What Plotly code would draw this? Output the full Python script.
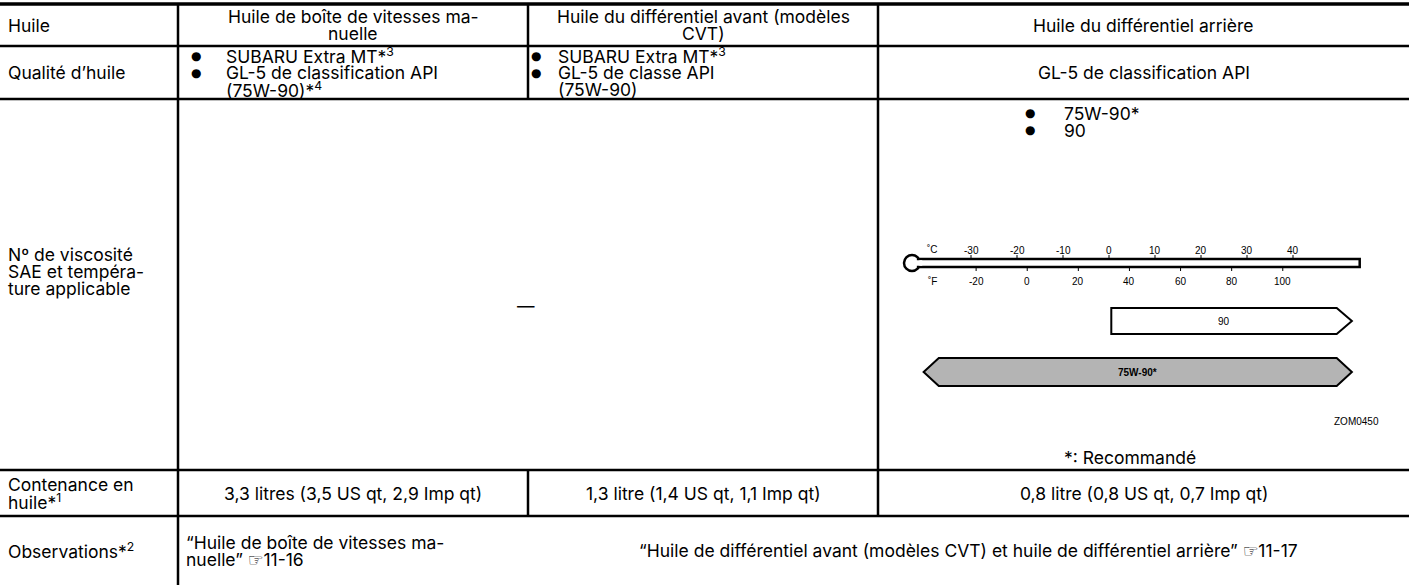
import plotly.graph_objects as go

W, H = 1409, 585
FONT = "Inter, DejaVu Sans, Liberation Sans, Arial, sans-serif"
FS = 17.5
LS = 17  # line spacing (px)

# ---- table data ----
col_x = [0, 178, 528, 878, 1409]
row_y = [4, 46, 99, 470, 516, 585]

header = [["Huile"],
          ["Huile de boîte de vitesses ma-", "nuelle"],
          ["Huile du différentiel avant (modèles", "CVT)"],
          ["Huile du différentiel arrière"]]
row_labels = [["Qualité d’huile"],
              ["Nº de viscosité", "SAE et tempéra-", "ture applicable"],
              ["Contenance en", "huile*<sup>1</sup>"],
              ["Observations*<sup>2</sup>"]]
quality_mt = ["SUBARU Extra MT*<sup>3</sup>", "GL-5 de classification API", "(75W-90)*<sup>4</sup>"]
quality_cvt = ["SUBARU Extra MT*<sup>3</sup>", "GL-5 de classe API", "(75W-90)"]
quality_rear = "GL-5 de classification API"
viscosity_list = ["75W-90*", "90"]
capacity = ["3,3 litres (3,5 US qt, 2,9 Imp qt)",
            "1,3 litre (1,4 US qt, 1,1 Imp qt)",
            "0,8 litre (0,8 US qt, 0,7 Imp qt)"]
obs_mt = ["“Huile de boîte de vitesses ma-", "nuelle” ☞11-16"]
obs_rest = "“Huile de différentiel avant (modèles CVT) et huile de différentiel arrière” ☞11-17"

# ---- thermometer diagram data ----
celsius_ticks = [-30, -20, -10, 0, 10, 20, 30, 40]
fahrenheit_ticks = [-20, 0, 20, 40, 60, 80, 100]
oil_grades = ["90", "75W-90*"]
grade_min_c = [0.5, -37]
grade_max_c = [49.5, 49.5]
grade_left_arrow = [False, True]
grade_fill = ["white", "#b4b4b4"]
grade_bold = [False, True]

fig = go.Figure()
fig.add_trace(go.Scatter(x=[0, W], y=[0, H], mode="markers",
                         marker=dict(opacity=0), hoverinfo="skip", showlegend=False))
fig.add_trace(go.Scatter(x=[0], y=[0], xaxis="x2", yaxis="y", mode="markers",
                         marker=dict(opacity=0), hoverinfo="skip", showlegend=False))

shapes = []
ann = []

def hline(x0, x1, y, w=2.5):
    shapes.append(dict(type="line", xref="x", yref="y", x0=x0, x1=x1, y0=y, y1=y,
                       line=dict(color="black", width=w)))

def vline(x, y0, y1, w=2.5):
    shapes.append(dict(type="line", xref="x", yref="y", x0=x, x1=x, y0=y0, y1=y1,
                       line=dict(color="black", width=w)))

def text(x, y, s, size=FS, xanchor="center", align="center", bold=False, xref="x",
         family=FONT):
    if bold:
        s = "<b>" + s + "</b>"
    ann.append(dict(x=x, y=y, xref=xref, yref="y", text=s, showarrow=False,
                    xanchor=xanchor, yanchor="middle", align=align,
                    font=dict(family=family, size=size, color="black")))

def lines(x, ymid, items, xanchor="center"):
    n = len(items)
    y0 = ymid - (n - 1) * LS / 2
    for k, it in enumerate(items):
        text(x, y0 + k * LS, it, xanchor=xanchor, align=xanchor if xanchor != "center" else "center")

# horizontal rules
hline(0, W, row_y[0], 3.5)
for y in row_y[1:5]:
    hline(0, W, y)

# vertical rules
vline(col_x[1], row_y[0], H)
vline(col_x[2], row_y[0], row_y[2])
vline(col_x[2], row_y[3], row_y[4])
vline(col_x[3], row_y[0], row_y[4])

def cx(i):
    return (col_x[i] + col_x[i + 1]) / 2

def cy(j):
    return (row_y[j] + row_y[j + 1]) / 2

# header
lines(6, cy(0), header[0], xanchor="left")
for i in range(1, 4):
    lines(cx(i), cy(0), header[i])

# first column labels
lines(6, cy(1), row_labels[0], xanchor="left")
lines(6, 271, row_labels[1], xanchor="left")
lines(6, cy(3), row_labels[2], xanchor="left")
lines(6, cy(4), row_labels[3], xanchor="left")

# quality row
def bullets(xb, xt, ymid, items, nb):
    n = len(items)
    y0 = ymid - (n - 1) * LS / 2
    for k, it in enumerate(items):
        y = y0 + k * LS
        if k < nb:
            text(xb, y, "●", size=12, family="DejaVu Sans")
        text(xt, y, it, xanchor="left", align="left")

bullets(col_x[1] + 18, col_x[1] + 46, cy(1), quality_mt, 2)
bullets(col_x[2] + 8, col_x[2] + 28, cy(1), quality_cvt, 2)
text(cx(3), cy(1), quality_rear)

# viscosity row
text(526, 305, "—")
for k, v in enumerate(viscosity_list):
    text(1030, 113 + k * LS, "●", size=12, family="DejaVu Sans")
    text(1062, 113 + k * LS, v, xanchor="left", align="left")

# thermometer
DFONT = "Liberation Sans, Arial, sans-serif"
yt, yb = 259, 267
shapes.append(dict(type="circle", xref="x", yref="y", x0=904, x1=920, y0=255, y1=271,
                   line=dict(color="black", width=2.5), fillcolor="white"))
shapes.append(dict(type="rect", xref="x2", yref="y", x0=-41.5, x1=54.5, y0=yt, y1=yb,
                   line=dict(color="black", width=2.5), fillcolor="white"))
shapes.append(dict(type="rect", xref="x2", yref="y", x0=-42.2, x1=-40.6, y0=yt + 1.3, y1=yb - 1.3,
                   line=dict(width=0), fillcolor="white"))
for c in celsius_ticks:
    shapes.append(dict(type="line", xref="x2", yref="y", x0=c, x1=c, y0=yt - 4, y1=yt,
                       line=dict(color="black", width=1)))
    text(c, 250, str(c), size=10, xref="x2", family=DFONT)
for f in fahrenheit_ticks:
    c = (f - 32) * 5 / 9
    shapes.append(dict(type="line", xref="x2", yref="y", x0=c, x1=c, y0=yb, y1=yb + 4,
                       line=dict(color="black", width=1)))
    text(c, 281, str(f), size=10, xref="x2", family=DFONT)
text(-38.3, 249, "˚C", size=10, xref="x2", family=DFONT)
text(-38.3, 281, "˚F", size=10, xref="x2", family=DFONT)

tip = 3.3
bar_y = [(308, 334), (358, 386)]
for g in range(len(oil_grades)):
    a, b = grade_min_c[g], grade_max_c[g]
    y0, y1 = bar_y[g]
    ym = (y0 + y1) / 2
    if grade_left_arrow[g]:
        p = f"M {a},{y0} L {b},{y0} L {b + tip},{ym} L {b},{y1} L {a},{y1} L {a - tip},{ym} Z"
    else:
        p = f"M {a},{y0} L {b},{y0} L {b + tip},{ym} L {b},{y1} L {a},{y1} Z"
    shapes.append(dict(type="path", xref="x2", yref="y", path=p,
                       line=dict(color="black", width=2), fillcolor=grade_fill[g]))
    text((a + b) / 2, ym, oil_grades[g], size=10, xref="x2", bold=grade_bold[g], family=DFONT)

text(1381, 421, "ZOM0450", size=10, xanchor="right", family=DFONT)
text(1130, 457, "*: Recommandé")

# capacity row
for i in range(3):
    text(cx(i + 1), cy(3), capacity[i])

# observations row
lines(col_x[1] + 6, cy(4), obs_mt, xanchor="left")
text((col_x[2] + W) / 2, cy(4), obs_rest)

C_PER_PX = 4.6
fig.update_layout(
    width=W, height=H,
    margin=dict(l=0, r=0, t=0, b=0),
    paper_bgcolor="white", plot_bgcolor="white",
    xaxis=dict(range=[0, W], visible=False, fixedrange=True, domain=[0, 1]),
    xaxis2=dict(range=[-44, 55], visible=False, anchor="y",
                domain=[(1109 - 44 * C_PER_PX) / W, (1109 + 55 * C_PER_PX) / W]),
    yaxis=dict(range=[H, 0], visible=False, fixedrange=True, domain=[0, 1]),
    shapes=shapes, annotations=ann, showlegend=False,
)
fig.write_html("out.html", config={"displayModeBar": False},
               post_script="document.body.style.margin='0';")
